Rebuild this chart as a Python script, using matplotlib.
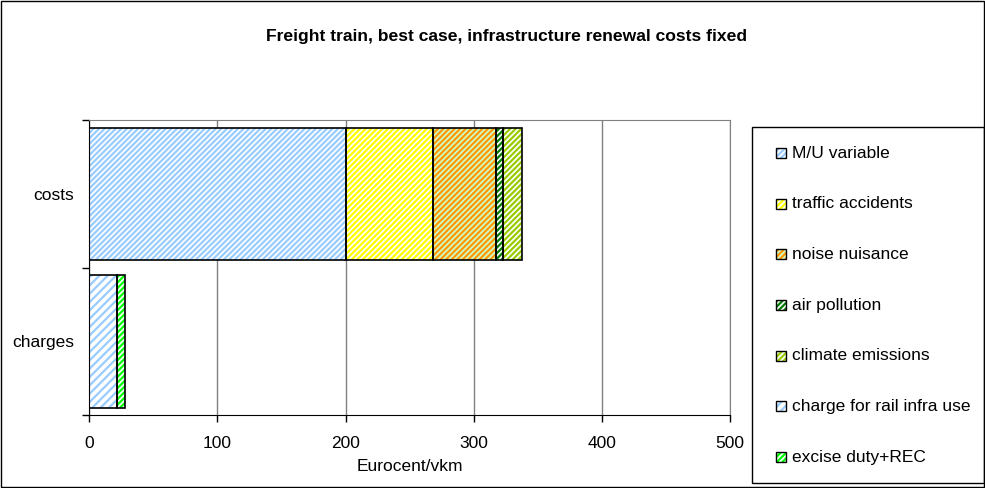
import matplotlib
matplotlib.use("Agg")
import matplotlib.pyplot as plt
from matplotlib.patches import Rectangle

# --- data -------------------------------------------------------------
categories = ["charges", "costs"]
cost_labels = ["M/U variable", "traffic accidents", "noise nuisance",
               "air pollution", "climate emissions"]
cost_values = [200, 68, 49, 6, 15]
charge_labels = ["charge for rail infra use", "excise duty+REC"]
charge_values = [22, 6]
x_ticks = [0, 100, 200, 300, 400, 500]

# --- styles (background, stripe colour, hatch) ------------------------
styles = {
    "M/U variable":              ("white",   "#99CCFF", "//////"),
    "traffic accidents":         ("white",   "#FFFF00", "//////"),
    "noise nuisance":            ("#CCFFCC", "#FF9900", "//////"),
    "air pollution":             ("white",   "#007A00", "//////"),
    "climate emissions":         ("white",   "#99CC00", "//////"),
    "charge for rail infra use": ("white",   "#99CCFF", "////"),
    "excise duty+REC":           ("white",   "#00FF00", "//////"),
}

plt.rcParams["font.family"] = ["Liberation Sans", "DejaVu Sans"]
plt.rcParams["hatch.linewidth"] = 1.6

W, H = 985, 488
fig = plt.figure(figsize=(W / 100, H / 100), dpi=100)


def fx(px):
    return px / W


def fy(py):
    return 1 - py / H


ax_left, ax_right, ax_top, ax_bottom = 89.3, 730, 120.5, 415
ax = fig.add_axes([fx(ax_left), fy(ax_bottom),
                   fx(ax_right - ax_left), (ax_bottom - ax_top) / H])

BAR_H = 0.9


def segment(y, left, width, name):
    bg, fg, hatch = styles[name]
    ax.barh(y, width, left=left, height=BAR_H, color=bg, edgecolor=fg,
            hatch=hatch, linewidth=0, zorder=2)
    ax.barh(y, width, left=left, height=BAR_H, fill=False,
            edgecolor="black", linewidth=1.2, zorder=3)


left = 0
for name, val in zip(cost_labels, cost_values):
    segment(1, left, val, name)
    left += val

left = 0
for name, val in zip(charge_labels, charge_values):
    segment(0, left, val, name)
    left += val

ax.set_xlim(x_ticks[0], x_ticks[-1])
ax.set_ylim(-0.5, 1.5)
ax.set_xticks(x_ticks)
ax.set_xticklabels([str(t) for t in x_ticks], fontsize=12.5)
ax.tick_params(axis="x", direction="out", length=5, width=1, pad=10)

ax.set_yticks([-0.5, 0.5, 1.5])
ax.set_yticklabels([])
ax.set_yticks([0, 1], minor=True)
ax.set_yticklabels(categories, minor=True, fontsize=12.5)
ax.tick_params(axis="y", which="major", direction="out", length=5, width=1)
ax.tick_params(axis="y", which="minor", length=0, pad=11)

ax.grid(axis="x", color="#808080", linewidth=1)
ax.set_axisbelow(True)
ax.spines["left"].set_color("black")
ax.spines["bottom"].set_color("black")
ax.spines["top"].set_color("#808080")
ax.spines["right"].set_color("#808080")

ax.set_xlabel("Eurocent/vkm", fontsize=12.5, labelpad=6)

# --- title ------------------------------------------------------------
fig.text(fx(507), fy(37), "Freight train, best case, infrastructure renewal costs fixed",
         ha="center", va="center", fontsize=12.6, fontweight="bold")

# --- legend -----------------------------------------------------------
fig.patches.append(Rectangle((fx(752), fy(483)), fx(984 - 752), (483 - 127) / H,
                             transform=fig.transFigure, fill=False,
                             edgecolor="black", linewidth=1))
legend_names = cost_labels + charge_labels
for i, name in enumerate(legend_names):
    yc = 153 + i * 50.67
    bg, fg, hatch = styles[name]
    fig.patches.append(Rectangle((fx(776), fy(yc + 5)), fx(10), 10 / H,
                                 transform=fig.transFigure, facecolor=bg,
                                 edgecolor=fg, hatch=hatch, linewidth=0))
    fig.patches.append(Rectangle((fx(776), fy(yc + 5)), fx(10), 10 / H,
                                 transform=fig.transFigure, fill=False,
                                 edgecolor="black", linewidth=1))
    fig.text(fx(792), fy(yc), name, ha="left", va="center", fontsize=12.5)

# --- outer chart border -----------------------------------------------
fig.patches.append(Rectangle((fx(1), fy(487)), fx(983), 486 / H,
                             transform=fig.transFigure, fill=False,
                             edgecolor="black", linewidth=1))

fig.savefig("out.png", dpi=100)
